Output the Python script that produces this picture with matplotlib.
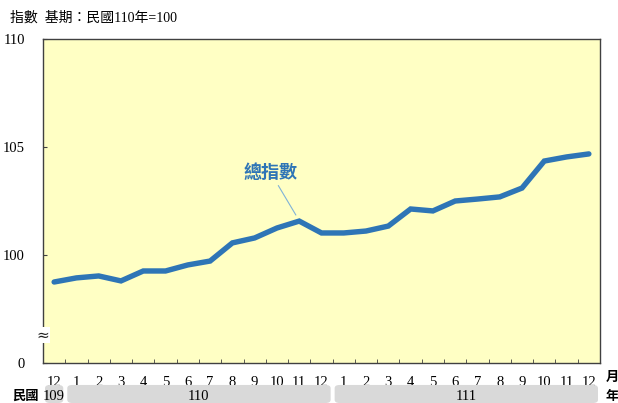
import matplotlib
matplotlib.use("Agg")
import matplotlib.pyplot as plt
from matplotlib.patches import FancyBboxPatch

plt.rcParams["font.family"] = ["Liberation Serif", "Noto Sans CJK TC", "DejaVu Sans"]

# months from 民國109年12月 to 111年12月
months = ["12"] + [str(m) for m in range(1, 13)] * 2
years = ["109", "110", "111"]
year_span = [1, 12, 12]
index_vals = [98.75, 98.94, 99.03, 98.80, 99.26, 99.26, 99.54, 99.72, 100.56,
              100.79, 101.25, 101.57, 101.02, 101.02, 101.11, 101.34, 102.13,
              102.04, 102.50, 102.59, 102.69, 103.10, 104.35, 104.54, 104.68]
ytick_vals = [95, 100, 105, 110]
ytick_labels = ["0", "100", "105", "110"]

LINE = "#2E75B6"
BG = "#FFFFC4"
SPINE = "#404040"

W, H = 618, 403
fig = plt.figure(figsize=(W / 100, H / 100), dpi=100)
ax = fig.add_axes([43 / W, 1 - 363 / H, 557 / W, 324 / H])
ax.set_facecolor(BG)

x = list(range(len(months)))
ax.plot(x, index_vals, color=LINE, lw=3.9, solid_joinstyle="miter",
        solid_capstyle="round", zorder=3)

ax.set_xlim(-0.5, len(months) - 0.5)
ax.set_ylim(95, 110)
ax.set_yticks(ytick_vals)
ax.set_yticklabels(ytick_labels, fontsize=10.5)
ax.tick_params(axis="y", direction="in", length=3, pad=13, color=SPINE)
ax.set_xticks(x)
ax.set_xticklabels(months, fontsize=10.5)
ax.set_xticks([i + 0.5 for i in x[:-1]], minor=True)
ax.tick_params(axis="x", which="major", length=0, pad=9)
ax.tick_params(axis="x", which="minor", direction="in", length=3, color=SPINE)
for s in ax.spines.values():
    s.set_color(SPINE)
    s.set_linewidth(1.0)

# axis break mark
ax.text(0, 95 + 28 / 21.6, "≈", transform=ax.get_yaxis_transform(),
        ha="center", va="center", fontsize=11, color="#222222",
        family=["DejaVu Sans"], zorder=5,
        bbox=dict(facecolor="white", edgecolor="none", pad=0.3))

# annotation
ax.annotate("總指數", xy=(10.85, 101.85), xytext=(9.7, 103.4),
            fontsize=13, fontweight="bold", color=LINE, ha="center",
            va="bottom", family=["Noto Sans CJK TC"],
            arrowprops=dict(arrowstyle="-", color="#7FB2D8", lw=0.8,
                            shrinkA=1, shrinkB=0))

# title
fig.text(10 / W, 1 - 18 / H, "指數  基期：民國110年=100", fontsize=10,
         ha="left", va="center")

# year row
fig.canvas.draw()
to_fig = fig.transFigure.inverted()
start = -0.5
for yr, n in zip(years, year_span):
    x0 = to_fig.transform(ax.transData.transform((start, 95)))[0]
    x1 = to_fig.transform(ax.transData.transform((start + n, 95)))[0]
    gap = 2 / W
    y0, y1 = 1 - 403 / H, 1 - 389 / H
    fig.patches.append(FancyBboxPatch(
        (x0 + gap, y0), x1 - x0 - 2 * gap, y1 - y0 + 0.01,
        boxstyle="round,pad=0,rounding_size=0.008",
        transform=fig.transFigure, facecolor="#D9D9D9", edgecolor="none"))
    fig.text((x0 + x1) / 2, 1 - 396 / H, yr, ha="center", va="center",
             fontsize=10.5)
    start += n

fig.text(25 / W, 1 - 396 / H, "民國", ha="center", va="center", fontsize=9.5,
         fontweight="bold", family=["Noto Sans CJK TC"])
fig.text(612 / W, 1 - 377 / H, "月", ha="center", va="center", fontsize=9.5,
         fontweight="bold", family=["Noto Sans CJK TC"])
fig.text(612 / W, 1 - 396 / H, "年", ha="center", va="center", fontsize=9.5,
         fontweight="bold", family=["Noto Sans CJK TC"])

fig.savefig("out.png", dpi=100)
